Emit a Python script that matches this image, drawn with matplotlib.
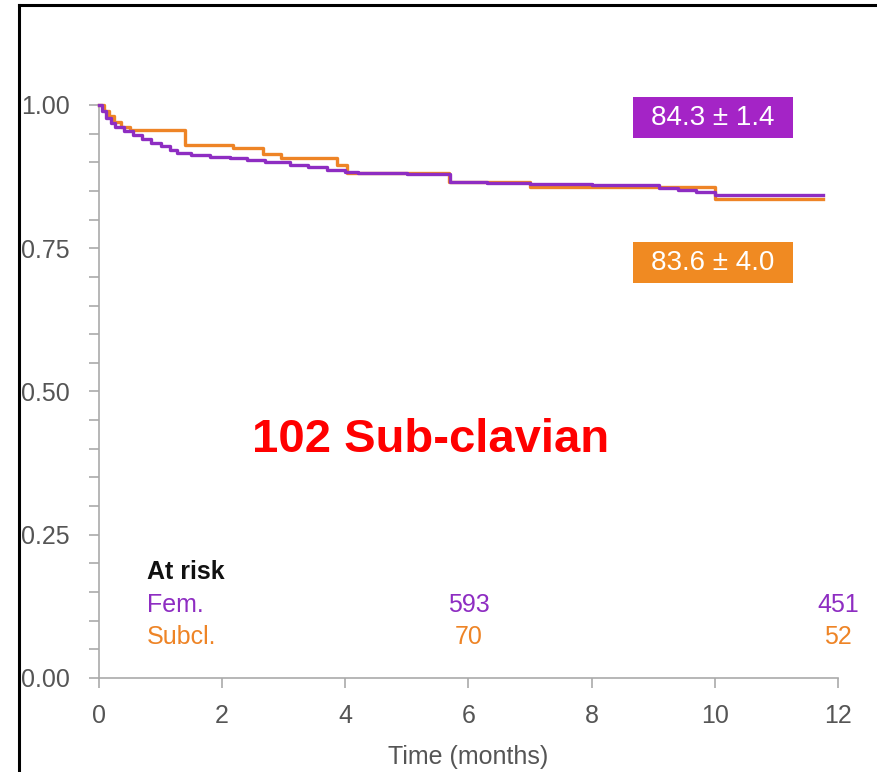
import matplotlib.pyplot as plt
from matplotlib.lines import Line2D
from matplotlib.patches import Rectangle
from matplotlib.ticker import MultipleLocator, FormatStrFormatter

plt.rcParams["font.family"] = ["Liberation Sans", "DejaVu Sans"]

# Kaplan-Meier estimates (time in months, survival fraction)
fem_t = [0, 0.05, 0.12, 0.2, 0.26, 0.4, 0.55, 0.7, 0.85, 1.0, 1.15, 1.27,
         1.5, 1.8, 2.13, 2.4, 2.7, 3.1, 3.4, 3.7, 4.0, 4.2, 5.0, 5.7, 6.3,
         7.0, 8.0, 8.8, 9.1, 9.4, 9.7, 10.0, 11.75]
fem_s = [1.0, 0.99, 0.978, 0.968, 0.962, 0.955, 0.948, 0.941, 0.934, 0.928,
         0.921, 0.916, 0.913, 0.910, 0.907, 0.904, 0.900, 0.895, 0.891, 0.887,
         0.883, 0.881, 0.879, 0.866, 0.864, 0.862, 0.861, 0.860, 0.856, 0.852,
         0.848, 0.843, 0.843]

sub_t = [0, 0.08, 0.16, 0.25, 0.35, 0.5, 1.4, 2.18, 2.66, 2.95, 3.86, 4.03,
         5.68, 7.0, 10.0, 11.75]
sub_s = [1.0, 0.99, 0.98, 0.97, 0.962, 0.956, 0.930, 0.925, 0.915, 0.907,
         0.895, 0.881, 0.866, 0.857, 0.836, 0.836]

# 12-month estimates and numbers at risk
groups = ["Fem.", "Subcl."]
estimates = ["84.3 \u00b1 1.4", "83.6 \u00b1 4.0"]
risk_times = [6, 12]
risk_counts = [[593, 451], [70, 52]]

purple = "#8E2DC2"
orange = "#EE8426"
gray = "#555555"

fig = plt.figure(figsize=(8.77, 7.72), dpi=100)
ax = fig.add_axes([0.1129, 0.1218, 0.8426, 0.7422])

ax.plot(sub_t, sub_s, drawstyle="steps-post", color=orange, lw=2.4,
        clip_on=False, zorder=3)
ax.plot(fem_t, fem_s, drawstyle="steps-post", color=purple, lw=2.4,
        clip_on=False, zorder=4)

ax.set_xlim(0, 12)
ax.set_ylim(0, 1.0)
ax.set_xticks(range(0, 13, 2))
ax.yaxis.set_major_locator(MultipleLocator(0.25))
ax.yaxis.set_minor_locator(MultipleLocator(0.05))
ax.yaxis.set_major_formatter(FormatStrFormatter("%.2f"))

for side in ["top", "right"]:
    ax.spines[side].set_visible(False)
for side in ["left", "bottom"]:
    ax.spines[side].set_color("#aaaaaa")
    ax.spines[side].set_linewidth(1.2)

ax.tick_params(axis="both", which="both", color="#aaaaaa", width=1.2,
               labelcolor=gray, labelsize=18)
ax.tick_params(axis="y", which="both", length=7, pad=14)
ax.tick_params(axis="x", length=7, pad=12)
ax.set_xlabel("Time (months)", fontsize=18, color=gray, labelpad=12)

# boxed 12-month estimates
box_colors = [purple, orange]
box_y = [0.942, 0.689]
for label, col, y0 in zip(estimates, ["#A424C6", "#F08A22"], box_y):
    ax.add_patch(Rectangle((8.67, y0), 2.6, 0.072, facecolor=col,
                           edgecolor="none", clip_on=False, zorder=5))
    ax.text(9.97, y0 + 0.036, label, color="white", fontsize=20,
            ha="center", va="center", zorder=6)

ax.text(5.39, 0.415, "102 Sub-clavian", color="#FF0000", fontsize=34,
        fontweight="bold", ha="center", va="center")

# numbers at risk
ax.text(0.78, 0.185, "At risk", color="#111111", fontsize=18,
        fontweight="bold", ha="left", va="center")
for name, counts, col, y in zip(groups, risk_counts, box_colors,
                                [0.127, 0.072]):
    ax.text(0.78, y, name, color=col, fontsize=18, ha="left", va="center")
    for t, n in zip(risk_times, counts):
        ax.text(t, y, str(n), color=col, fontsize=18, ha="center",
                va="center", clip_on=False)

# frame lines along the top and left edges
fig.add_artist(Line2D([0.0217, 0.0217], [0, 0.9935], color="black", lw=2.2))
fig.add_artist(Line2D([0.0217, 1.0], [0.9935, 0.9935], color="black", lw=2.2))

fig.savefig("out.png", dpi=100)
